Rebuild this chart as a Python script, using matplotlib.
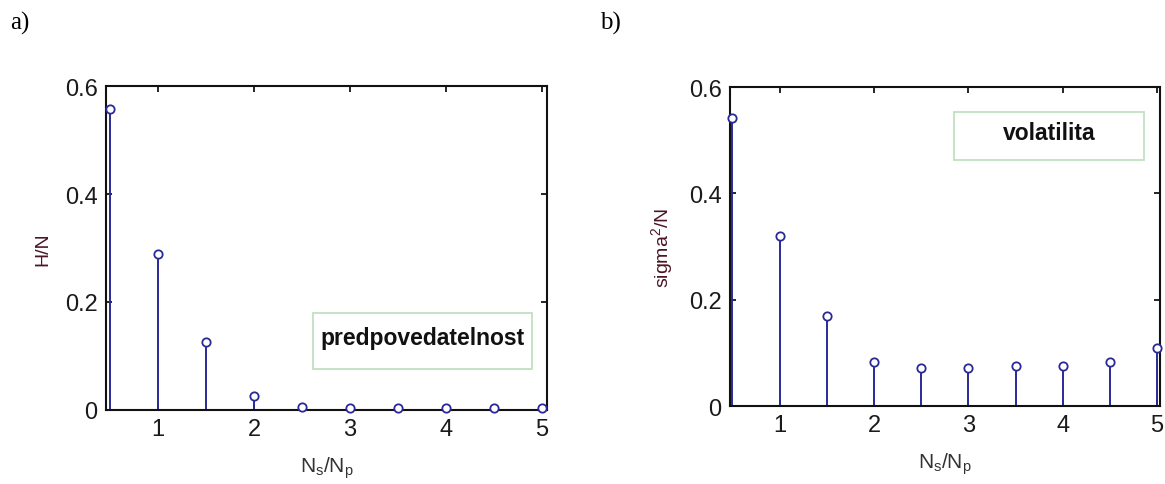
import numpy as np
import matplotlib
matplotlib.use("Agg")
import matplotlib.pyplot as plt

plt.rcParams['font.family'] = ['Liberation Sans', 'DejaVu Sans']
plt.rcParams['mathtext.default'] = 'regular'

# ratio Ns/Np
ratio = [0.5, 1.0, 1.5, 2.0, 2.5, 3.0, 3.5, 4.0, 4.5, 5.0]
# a) predictability H/N
h_n = [0.557, 0.289, 0.126, 0.025, 0.006, 0.004, 0.004, 0.004, 0.004, 0.004]
# b) volatility sigma^2/N
sigma2_n = [0.542, 0.320, 0.170, 0.083, 0.071, 0.071, 0.076, 0.076, 0.083, 0.110]

x_ticks = [1, 2, 3, 4, 5]
y_ticks = [0, 0.2, 0.4, 0.6]
y_ticklabels = ["0", "0.2", "0.4", "0.6"]

stem_col = "#2a2a96"
label_col = "#4a1424"


def stem_panel(ax, x, y, xlim, ylabel, note, note_box):
    ax.vlines(x, 0, y, color=stem_col, lw=1.4, zorder=2)
    ax.plot(x, y, "o", ms=6, mfc="white", mec=stem_col, mew=1.3,
            clip_on=False, zorder=3)
    ax.set_xlim(*xlim)
    ax.set_ylim(0, 0.6)
    ax.set_xticks(x_ticks)
    ax.set_yticks(y_ticks)
    ax.set_yticklabels(y_ticklabels)
    ax.tick_params(direction="in", length=4, width=1.2, top=True, right=True,
                   labelsize=17, labelcolor="#1a1a1a", pad=6)
    for s in ax.spines.values():
        s.set_linewidth(1.5)
        s.set_color("#111111")
    ax.set_xlabel(r"N$_s$/N$_p$", fontsize=15, color="#333333", labelpad=10)
    ax.set_ylabel(ylabel, fontsize=14, color=label_col, labelpad=10)
    # green framed note inside the axes
    x0, y0, x1, y1 = note_box
    ax.add_patch(plt.Rectangle((x0, y0), x1 - x0, y1 - y0, transform=ax.transAxes,
                               fill=True, fc="white", ec="#c2e0c2", lw=1.3, zorder=4))
    ax.text((x0 + x1) / 2, (y0 + y1) / 2 + 0.01, note, transform=ax.transAxes,
            ha="center", va="center", fontsize=16.5, fontweight="bold",
            color="#111111", zorder=5)


fig = plt.figure(figsize=(11.65, 4.85), dpi=100)

ax1 = fig.add_axes([0.0910, 0.1526, 0.3785, 0.668])
stem_panel(ax1, ratio, h_n, (0.46, 5.05), "H/N", "predpovedatelnost",
           (0.47, 0.128, 0.965, 0.30))

ax2 = fig.add_axes([0.6266, 0.1608, 0.3691, 0.6577])
stem_panel(ax2, ratio, sigma2_n, (0.475, 5.03), r"sigma$^2$/N", "volatilita",
           (0.522, 0.772, 0.962, 0.922))

fig.text(10 / 1165, 1 - 23 / 485, "a)", family="Liberation Serif", fontsize=18,
         va="center", ha="left")
fig.text(600 / 1165, 1 - 23 / 485, "b)", family="Liberation Serif", fontsize=18,
         va="center", ha="left")

fig.savefig("out.png", dpi=100)
